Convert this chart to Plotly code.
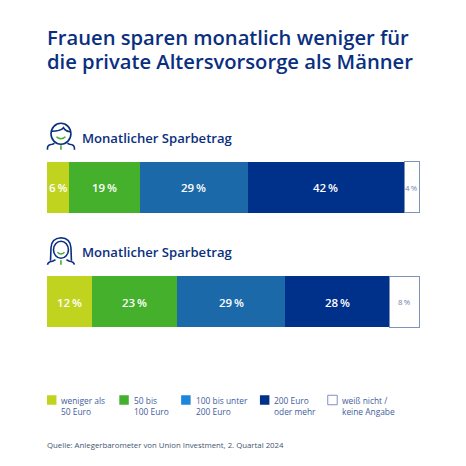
import plotly.graph_objects as go

groups = ["Männer", "Frauen"]
series_names = ["weniger als 50 Euro", "50 bis 100 Euro", "100 bis unter 200 Euro", "200 Euro oder mehr", "weiß nicht / keine Angabe"]
legend_labels = ["weniger als<br>50 Euro", "50 bis<br>100 Euro", "100 bis unter<br>200 Euro", "200 Euro<br>oder mehr", "weiß nicht /<br>keine Angabe"]
weniger_50 = [6, 12]
bis_100 = [19, 23]
bis_200 = [29, 29]
ab_200 = [42, 28]
keine_angabe = [4, 8]
all_values = [weniger_50, bis_100, bis_200, ab_200, keine_angabe]
bar_colors = ["#c0d41f", "#44b02c", "#1c69a9", "#00318a", "#ffffff"]
legend_colors = ["#c0d41f", "#44b02c", "#1a87dc", "#00318a", "#ffffff"]
legend_x = [46.5, 119, 181, 260, 328]

NAVY = "#0a2f80"
EDGE = "#7f92bb"
FONT = "Open Sans"
W = H = 466
L, R, T, B = 46.5, 420.5, 130.25, 359.25
X_MAX = 100.27
UNIT = (R - L) / X_MAX
THIN = "\u2009"


def px(x):
    return (x - L) / (R - L)


def py(y):
    return (B - y) / (B - T)


def text(x, y, s, size, color=NAVY, anchor="left", weight=400, font=FONT, yanchor="middle"):
    return dict(xref="paper", yref="paper", x=px(x), y=py(y), text=s, showarrow=False,
                xanchor=anchor, yanchor=yanchor, align=anchor, xshift=0, yshift=0,
                borderpad=0, borderwidth=0,
                font=dict(family=font, size=size, color=color, weight=weight))


fig = go.Figure()
for vals, name, col in zip(all_values, series_names, bar_colors):
    is_white = col == "#ffffff"
    fig.add_bar(y=groups, x=vals, name=name, orientation="h",
                marker=dict(color=col, line=dict(color=EDGE if is_white else col, width=1 if is_white else 0)),
                showlegend=False, hoverinfo="x+y+name")

annotations = []
shapes = []

annotations.append(text(46, 37.5, "Frauen sparen monatlich weniger für", 20.2, weight=600))
annotations.append(text(46, 61.5, "die private Altersvorsorge als Männer", 20.2, weight=600))
annotations.append(text(82, 138, "Monatlicher Sparbetrag", 13.1, weight=600))
annotations.append(text(82, 252, "Monatlicher Sparbetrag", 13.1, weight=600))

# value labels derived from the data
bar_y = [188, 302.5]
for g, yc in enumerate(bar_y):
    start = 0
    for s, vals in enumerate(all_values):
        v = vals[g]
        xc = L + (start + v / 2) * UNIT
        start += v
        if s == 4:
            annotations.append(text(xc, yc, f"{v}{THIN}%", 7.8, color="#6e7fa8", anchor="center"))
        else:
            annotations.append(text(xc, yc, f"{v}{THIN}%", 11.5, color="#ffffff", anchor="center", weight=600))

# legend
for lx, lab, col in zip(legend_x, legend_labels, legend_colors):
    white = col == "#ffffff"
    shapes.append(dict(type="rect", xref="paper", yref="paper", x0=px(lx), x1=px(lx + 9.5),
                       y0=py(405), y1=py(395.5),
                       fillcolor=col, line=dict(color=EDGE if white else col, width=1 if white else 0)))
    annotations.append(text(lx + 14.5, 406, lab, 8.4, color="#3f5d9c"))

annotations.append(text(46.5, 445.5, "Quelle: Anlegerbarometer von Union Investment, 2. Quartal 2024", 7.8, color="#44546f"))


def curve(cmds):
    out = []
    for c in cmds:
        out.append(c[0] + " " + " ".join(f"{px(c[i]):.4f},{py(c[i + 1]):.4f}" for i in range(1, len(c), 2)))
    return " ".join(out)


def ellipse(cx, cy, rx, ry, color=NAVY, w=1.6):
    return dict(type="circle", xref="paper", yref="paper", x0=px(cx - rx), x1=px(cx + rx),
                y0=py(cy + ry), y1=py(cy - ry), line=dict(color=color, width=w), fillcolor="rgba(0,0,0,0)")


def stroke(d, color=NAVY, w=1.6):
    return dict(type="path", xref="paper", yref="paper", path=d, line=dict(color=color, width=w))


GREEN = "#3fb02c"
# man icon
shapes.append(ellipse(60.5, 134, 10, 10.5))
shapes.append(stroke(curve([("M", 51, 131.5), ("Q", 60, 131.5, 63, 128), ("Q", 65, 131.5, 70, 132)])))
shapes.append(stroke(curve([("M", 47, 150), ("L", 47, 148), ("Q", 47, 145, 52, 144.5), ("L", 54, 143.5),
                            ("M", 74, 150), ("L", 74, 148), ("Q", 74, 145, 69, 144.5), ("L", 67, 143.5)])))
shapes.append(stroke(curve([("M", 56, 137), ("Q", 60.5, 141, 65, 137)]), GREEN))
shapes.append(stroke(curve([("M", 60.5, 145.5), ("L", 60.5, 150)]), GREEN))
# woman icon
shapes.append(ellipse(60.5, 250, 7.5, 8.5))
shapes.append(stroke(curve([("M", 50, 261), ("L", 50.5, 248), ("Q", 51, 238.5, 60.5, 238),
                            ("Q", 70, 238.5, 70.5, 248), ("L", 71, 261)])))
shapes.append(stroke(curve([("M", 47, 265), ("Q", 47.5, 262, 52, 261.5), ("L", 55, 260),
                            ("M", 74, 265), ("Q", 73.5, 262, 69, 261.5), ("L", 66, 260)])))
shapes.append(stroke(curve([("M", 57, 252.5), ("Q", 60.5, 256, 64, 252.5)]), GREEN))
shapes.append(stroke(curve([("M", 60.5, 260.5), ("L", 60.5, 265)]), GREEN))

fig.update_layout(
    width=W, height=H, barmode="stack", bargap=0.555,
    margin=dict(l=L, r=W - R, t=T, b=H - B, pad=0),
    paper_bgcolor="#ffffff", plot_bgcolor="#ffffff",
    xaxis=dict(range=[0, X_MAX], visible=False, fixedrange=True),
    yaxis=dict(visible=False, autorange="reversed", fixedrange=True),
    annotations=annotations, shapes=shapes,
)
fig.write_html("out.html", config={"displayModeBar": False},
               post_script="document.body.style.margin='0';")
